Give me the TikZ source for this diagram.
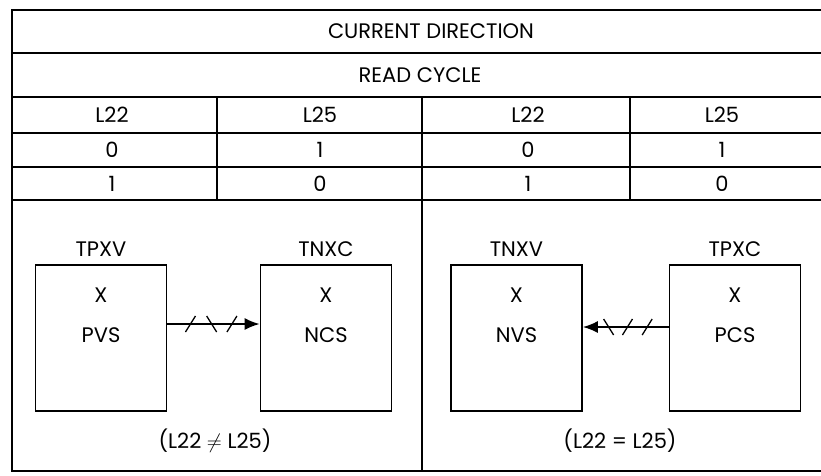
\documentclass[tikz,border=0pt]{standalone}
\usepackage{fontspec}
\setmainfont{Poppins}
\usetikzlibrary{arrows.meta,calc}
\tikzset{
  frame/.style={line width=1.8pt},
  rule/.style={line width=1.4pt},
  divider/.style={line width=2.6pt},
  cell/.style={font=\fontsize{21}{23}\selectfont, inner sep=0pt},
  unit/.style={draw, line width=1.8pt, minimum width=131pt, minimum height=146pt, inner sep=0pt},
  lbl/.style={font=\fontsize{21}{23}\selectfont, inner sep=0pt},
  link/.style={line width=1.6pt, -{Latex[length=15pt,width=12pt]}},
  hatch/.style={line width=1.3pt}
}
\begin{document}
\begin{tikzpicture}[x=1pt,y=-1pt]
\useasboundingbox (0,0) rectangle (821,475);
% frame and table rules
\draw[frame] (821,10) -- (12,10) -- (12,471) -- (821,471);
\draw[rule] (12,53) -- (821,53);
\draw[rule] (12,97) -- (821,97);
\draw[rule] (12,133) -- (821,133);
\draw[rule] (12,167) -- (821,167);
\draw[rule] (12,200) -- (821,200);
\draw[rule] (217,97) -- (217,200);
\draw[rule] (630,97) -- (630,200);
\draw[divider] (422,97) -- (422,471);
% table text
\node[cell] (hdr) at (431,31) {CURRENT DIRECTION};
\node[cell] (rc) at (420,75) {READ CYCLE};
\node[cell] (h1) at (112,115) {L22};
\node[cell] (h2) at (320,115) {L25};
\node[cell] (h3) at (528,115) {L22};
\node[cell] (h4) at (722,115) {L25};
\node[cell] (a1) at (112,150) {0};
\node[cell] (a2) at (320,150) {1};
\node[cell] (a3) at (528,150) {0};
\node[cell] (a4) at (722,150) {1};
\node[cell] (b1) at (112,184) {1};
\node[cell] (b2) at (320,184) {0};
\node[cell] (b3) at (528,184) {1};
\node[cell] (b4) at (722,184) {0};
% boxes
\node[unit] (pvs) at (101,338) {};
\node[unit] (ncs) at (326,338) {};
\node[unit] (nvs) at (516.5,338) {};
\node[unit] (pcs) at (735,338) {};
\foreach \n/\top/\bot in {pvs/TPXV/PVS, ncs/TNXC/NCS, nvs/TNXV/NVS, pcs/TPXC/PCS}{
  \node[lbl, above=7pt] (\n-t) at (\n.north) {\top};
  \node[lbl] (\n-x) at ($(\n.center)+(0,-43)$) {X};
  \node[lbl] (\n-s) at ($(\n.center)+(0,-3)$) {\bot};
}
% connectors
\coordinate (l1) at ($(pvs.east)+(0,-14)$);
\coordinate (l2) at ($(ncs.west)+(0,-14)$);
\draw[link] (l1) -- (l2);
\foreach \p/\s in {0.25/1, 0.48/-1, 0.7/1}{
  \draw[hatch] ($(l1)!\p!(l2)+(-5*\s,8)$) -- ($(l1)!\p!(l2)+(5*\s,-8)$);
}
\coordinate (r1) at ($(pcs.west)+(0,-11)$);
\coordinate (r2) at ($(nvs.east)+(0,-11)$);
\draw[link] (r1) -- (r2);
\foreach \p/\s in {0.25/1, 0.48/1, 0.7/-1}{
  \draw[hatch] ($(r1)!\p!(r2)+(-5*\s,8)$) -- ($(r1)!\p!(r2)+(5*\s,-8)$);
}
\node[lbl] (c1) at (215,441) {(L22 $\neq$ L25)};
\node[lbl] (c2) at (620,441) {(L22 = L25)};
\end{tikzpicture}
\end{document}
